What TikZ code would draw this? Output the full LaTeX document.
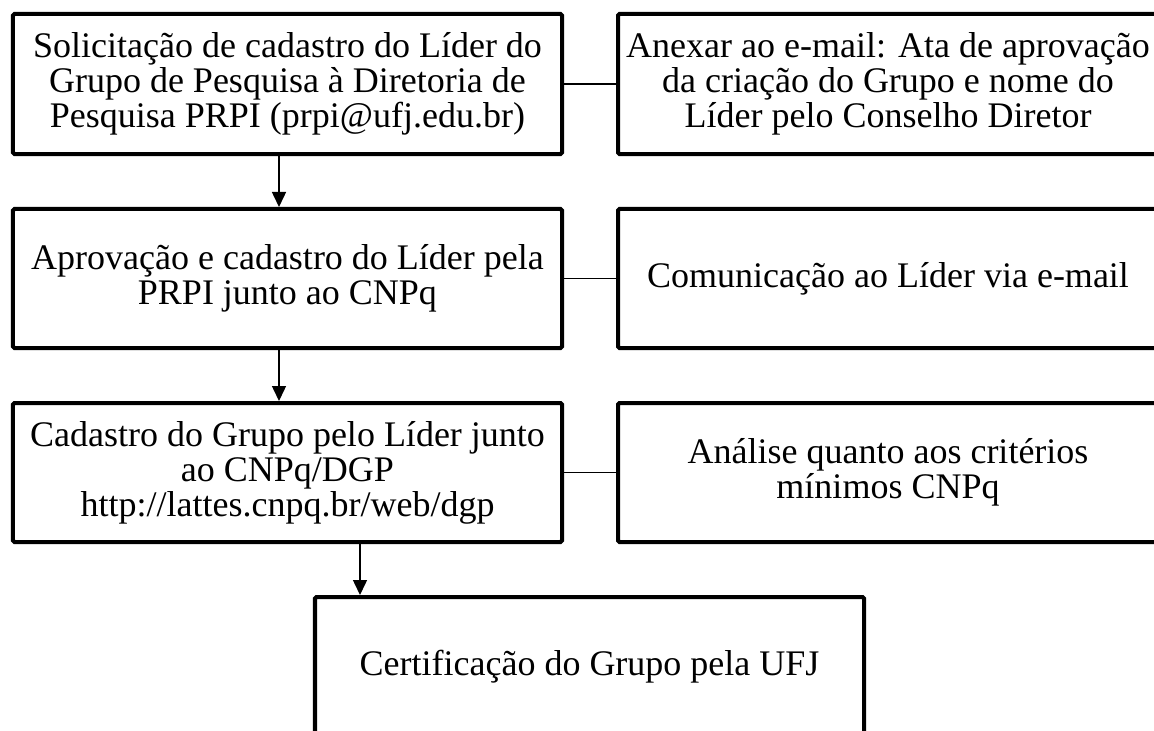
\documentclass[tikz,border=0pt]{standalone}
\usepackage{fontspec}
\setmainfont{Liberation Serif}
\usetikzlibrary{arrows.meta}
\tikzset{
  box/.style={draw=black, line width=4bp, rounded corners=1.5bp, align=center,
    inner sep=0pt, font=\fontsize{36bp}{35bp}\selectfont},
  lbox/.style={box, minimum width=549bp, minimum height=139bp},
  rbox/.style={box, minimum width=540bp, minimum height=139bp},
  link/.style={draw=black, line width=1.5bp},
  arr/.style={link, -{Triangle[width=14bp,length=15bp]}}
}
\begin{document}
\begin{tikzpicture}[x=1bp,y=-1bp]
\clip (0,0) rectangle (1154,731);
\fill[white] (0,0) rectangle (1154,731);
\node[lbox, minimum height=140bp] (b1) at (287.5,84)
  {Solicitação de cadastro do Líder do\\Grupo de Pesquisa à Diretoria de\\Pesquisa PRPI (prpi@ufj.edu.br)};
\node[rbox, minimum height=140bp] (r1) at (888,84)
  {Anexar ao e-mail: Ata de aprovação\\da criação do Grupo e nome do\\Líder pelo Conselho Diretor};
\node[lbox] (b2) at (287.5,278.5)
  {Aprovação e cadastro do Líder pela\\PRPI junto ao CNPq};
\node[rbox] (r2) at (888,278.5)
  {Comunicação ao Líder via e-mail};
\node[lbox] (b3) at (287.5,472.5)
  {Cadastro do Grupo pelo Líder junto\\ao CNPq/DGP\\http://lattes.cnpq.br/web/dgp};
\node[rbox] (r3) at (888,472.5)
  {Análise quanto aos critérios\\mínimos CNPq};
\node[lbox, minimum height=140bp] (b4) at (589.5,667)
  {Certificação do Grupo pela UFJ};
\draw[link] (b1.east) -- (r1.west);
\draw[link] (b2.east) -- (r2.west);
\draw[link] (b3.east) -- (r3.west);
\draw[arr] ([xshift=-8.5bp]b1.south) -- ([xshift=-8.5bp]b1.south |- b2.north);
\draw[arr] ([xshift=-8.5bp]b2.south) -- ([xshift=-8.5bp]b2.south |- b3.north);
\draw[arr] ([xshift=72.5bp]b3.south) -- ([xshift=72.5bp]b3.south |- b4.north);
\end{tikzpicture}
\end{document}
